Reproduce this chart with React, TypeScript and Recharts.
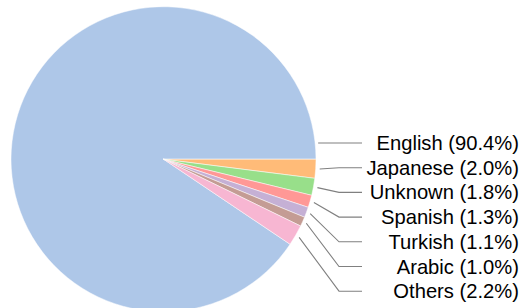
import { PieChart, Pie, Cell } from 'recharts'

const languages = ['English', 'Japanese', 'Unknown', 'Spanish', 'Turkish', 'Arabic', 'Others']
const shares = [90.4, 2.0, 1.8, 1.3, 1.1, 1.0, 2.2]
const colors = ['#aec7e8', '#ffbb78', '#98df8a', '#ff9896', '#c5b0d5', '#c49c94', '#f7b6d2']

const data = languages.map((name, i) => ({ name, value: shares[i] }))

const total = shares.reduce((a, b) => a + b, 0)
// English is drawn first, clockwise, so the small slices start at 3 o'clock
const startAngle = (360 * shares[0]) / total

const CX = 163.5
const CY = 159.2
const R = 152.5
const LABEL_TOP = 143
const LABEL_GAP = 24.7
const ELBOW_X = 339
const LINE_END_X = 362
const TEXT_X = 519

const RAD = Math.PI / 180

const renderLabel = (props: any) => {
  const { index, midAngle } = props
  const y = LABEL_TOP + index * LABEL_GAP
  let points: string
  if (index === 0) {
    const x0 = CX + Math.sqrt(R * R - (y - CY) * (y - CY)) + 3
    points = `${x0},${y} ${LINE_END_X},${y}`
  } else {
    const r = R + 4
    const sx = CX + r * Math.cos(midAngle * RAD)
    const sy = CY - r * Math.sin(midAngle * RAD)
    points = `${sx},${sy} ${ELBOW_X},${y} ${LINE_END_X},${y}`
  }
  return (
    <g key={`lbl-${index}`}>
      <polyline points={points} fill="none" stroke="#808080" strokeWidth={1.1} />
      <text
        x={TEXT_X}
        y={y}
        textAnchor="end"
        dominantBaseline="central"
        fontSize={20.2}
        fill="#000"
        fontFamily="'Liberation Sans', Arial, sans-serif"
      >
        {`${languages[index]} (${shares[index].toFixed(1)}%)`}
      </text>
    </g>
  )
}

const App = () => {
  return (
    <div style={{ position: 'absolute', left: 0, top: 0, background: '#fff' }}>
      <PieChart width={522} height={308} margin={{ top: 0, right: 0, bottom: 0, left: 0 }}>
        <Pie
          data={data}
          dataKey="value"
          nameKey="name"
          cx={CX}
          cy={CY}
          outerRadius={R}
          startAngle={startAngle}
          endAngle={startAngle - 360}
          stroke="#ffffff"
          strokeWidth={0.5}
          label={renderLabel}
          labelLine={false}
          isAnimationActive={false}
        >
          {data.map((d, i) => (
            <Cell key={d.name} fill={colors[i]} />
          ))}
        </Pie>
      </PieChart>
    </div>
  )
}

export default App
